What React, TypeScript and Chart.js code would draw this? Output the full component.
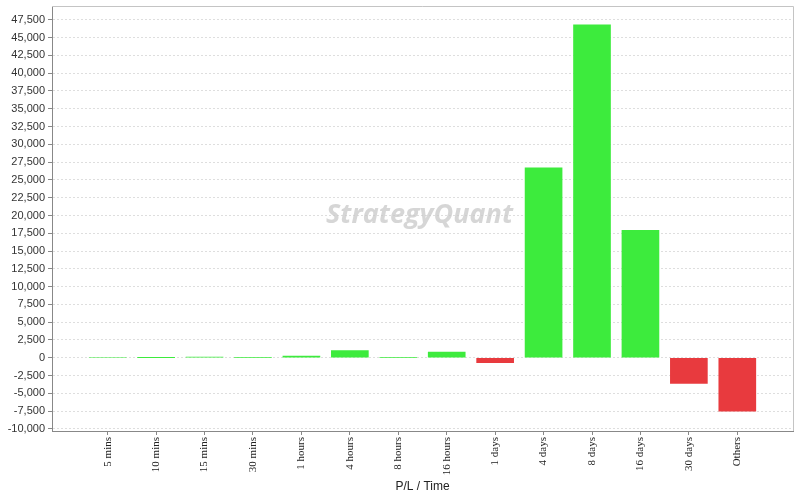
import { useEffect, useRef } from "react";
import { Chart, registerables } from "chart.js";

Chart.register(...registerables);

const categories = [
  "5 mins", "10 mins", "15 mins", "30 mins", "1 hours", "4 hours", "8 hours",
  "16 hours", "1 days", "4 days", "8 days", "16 days", "30 days", "Others",
];
const profitLoss = [0, 20, 100, 50, 250, 1000, 50, 800, -700, 26700, 46800, 17900, -3600, -7500];
const yTicks = [
  -10000, -7500, -5000, -2500, 0, 2500, 5000, 7500, 10000, 12500, 15000, 17500, 20000,
  22500, 25000, 27500, 30000, 32500, 35000, 37500, 40000, 42500, 45000, 47500,
];

const GREEN = "#3deb3d";
const RED = "#e83a3e";

// light frame on top/right + the faded logo text behind the bars
const plotDecor = {
  id: "plotDecor",
  beforeDatasetsDraw(chart: Chart) {
    const { ctx, chartArea } = chart;
    const { left, right, top, bottom } = chartArea;
    ctx.save();
    ctx.strokeStyle = "#c4c4c4";
    ctx.lineWidth = 1;
    ctx.beginPath();
    ctx.moveTo(left, top + 0.5);
    ctx.lineTo(right + 0.5, top + 0.5);
    ctx.lineTo(right + 0.5, bottom);
    ctx.stroke();

    ctx.font = "italic bold 27px 'Open Sans', sans-serif";
    ctx.fillStyle = "rgba(200,200,200,0.75)";
    ctx.textAlign = "center";
    ctx.textBaseline = "middle";
    ctx.fillText("StrategyQuant", (left + right) / 2 - 3, (top + bottom) / 2 - 3);
    ctx.restore();
  },
};

const App = () => {
  const chartRef = useRef<HTMLCanvasElement>(null);
  const chartInstanceRef = useRef<Chart>();

  useEffect(() => {
    if (!chartRef.current) return;
    if (chartInstanceRef.current) chartInstanceRef.current.destroy();
    const ctx = chartRef.current.getContext("2d");
    if (!ctx) return;

    chartInstanceRef.current = new Chart(ctx, {
      type: "bar",
      data: {
        datasets: [
          {
            label: "P/L",
            data: profitLoss.map((v, i) => ({ x: i, y: v })),
            backgroundColor: profitLoss.map((v) => (v >= 0 ? GREEN : RED)),
            borderWidth: 0,
            barThickness: 37,
          },
        ],
      },
      plugins: [plotDecor],
      options: {
        animation: false,
        responsive: true,
        maintainAspectRatio: false,
        layout: { padding: { top: 6, right: 7, left: 0, bottom: 0 } },
        plugins: {
          legend: { display: false },
          tooltip: { enabled: false },
        },
        scales: {
          x: {
            type: "linear",
            offset: false,
            min: -1.15,
            max: 14.15,
            afterBuildTicks: (scale: any) => {
              scale.ticks = categories.map((_, i) => ({ value: i }));
            },
            afterFit: (scale: any) => {
              scale.height = 69;
              scale.paddingLeft = 0;
              scale.paddingRight = 0;
            },
            ticks: {
              autoSkip: false,
              minRotation: 90,
              maxRotation: 90,
              padding: 2,
              color: "#222",
              font: { family: "'Liberation Serif', serif", size: 11 },
              callback: (value: any) => categories[value] ?? "",
            },
            grid: {
              offset: false,
              drawOnChartArea: false,
              drawTicks: true,
              tickLength: 4,
              tickColor: "#888",
            },
            border: { display: true, color: "#888", width: 1 },
            title: {
              display: true,
              text: "P/L / Time",
              color: "#222",
              font: { family: "'Liberation Sans', sans-serif", size: 12 },
              padding: { top: 0, bottom: 6 },
            },
          },
          y: {
            min: -10300,
            max: 49450,
            afterBuildTicks: (scale: any) => {
              scale.ticks = yTicks.map((v) => ({ value: v }));
            },
            afterFit: (scale: any) => {
              scale.width = 52;
              scale.paddingTop = 0;
              scale.paddingBottom = 0;
            },
            ticks: {
              padding: 3,
              color: "#333",
              font: { family: "'Liberation Sans', sans-serif", size: 11 },
              callback: (value: any) => Number(value).toLocaleString("en-US"),
            },
            grid: {
              color: "#dedede",
              tickColor: "#888",
              tickLength: 4,
              tickBorderDash: [],
            },
            border: { display: true, color: "#888", width: 1, dash: [2, 2] },
          },
        },
      },
    });

    return () => {
      if (chartInstanceRef.current) chartInstanceRef.current.destroy();
    };
  }, []);

  return (
    <div style={{ position: "fixed", left: 0, top: 0, width: 800, height: 500, background: "#fff" }}>
      <canvas ref={chartRef} />
    </div>
  );
};

export default App;
